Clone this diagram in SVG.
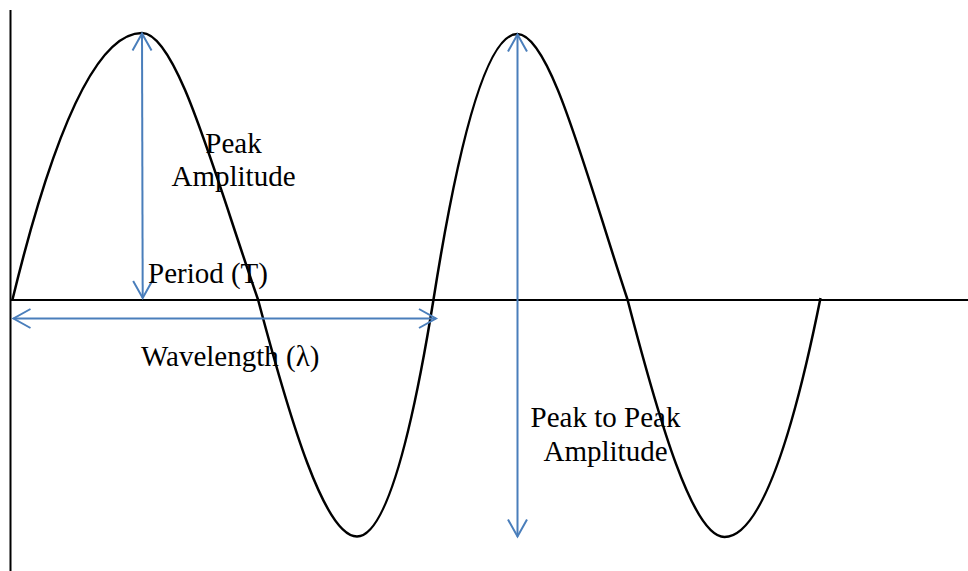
<svg xmlns="http://www.w3.org/2000/svg" width="968" height="571" viewBox="0 0 968 571">
  <style>
    .axis { stroke: #000; stroke-width: 2; fill: none; }
    .wave { stroke: #000; stroke-width: 2.5; fill: none; stroke-linejoin: round; }
    .arrow { stroke: #4A7EBB; stroke-width: 2; fill: none; marker-start: url(#chev); marker-end: url(#chev); }
    .lbl { font-family: "Liberation Serif", "Times New Roman", serif; font-size: 29px; fill: #000; }
    .mid { text-anchor: middle; }
  </style>
  <defs>
    <marker id="chev" markerUnits="userSpaceOnUse" viewBox="-20 -12 24 24" markerWidth="24" markerHeight="24" refX="0" refY="0" orient="auto-start-reverse">
      <path d="M-17,-9.5 L0,0 L-17,9.5" fill="none" stroke="#4A7EBB" stroke-width="2"/>
    </marker>
  </defs>
  <rect width="968" height="571" fill="#fff"/>

  <g id="axes">
    <line class="axis" x1="10.5" y1="10" x2="10.5" y2="571"/>
    <line class="axis" x1="10" y1="300" x2="968" y2="300"/>
  </g>

  <g id="waveform">
    <path class="wave" d="M12.5,299.5
      C55.67,121.83 98.83,33 142,33
      C176.8,33 213.92,172.91 258,299.5
      C290.3,420.99 324.7,536.5 357,536.5
      C382.5,536.5 408,457.5 433.5,299.5
      C461.43,122.5 489.37,34 517.3,34
      C550.36,34 585.62,173.39 627.5,299.5
      C659.15,421.24 692.85,537 724.5,537
      C756.5,537 788.5,457.33 820.5,298"/>
  </g>

  <g id="connectors">
    <line class="arrow" x1="142" y1="33.5" x2="142.7" y2="298"/>
    <line class="arrow" x1="13.5" y1="318.5" x2="436" y2="318.5"/>
    <line class="arrow" x1="517.5" y1="34.5" x2="517.5" y2="536.5"/>
  </g>

  <g id="label-peak-amplitude">
    <text class="lbl mid" x="233.5" y="152.5">Peak</text>
    <text class="lbl mid" x="233.5" y="186">Amplitude</text>
  </g>
  <g id="label-period">
    <text class="lbl" x="148" y="283">Period (T)</text>
  </g>
  <g id="label-wavelength">
    <text class="lbl" x="141" y="366">Wavelength (λ)</text>
  </g>
  <g id="label-peak-to-peak">
    <text class="lbl mid" x="605.5" y="427">Peak to Peak</text>
    <text class="lbl mid" x="605.5" y="461">Amplitude</text>
  </g>
</svg>
